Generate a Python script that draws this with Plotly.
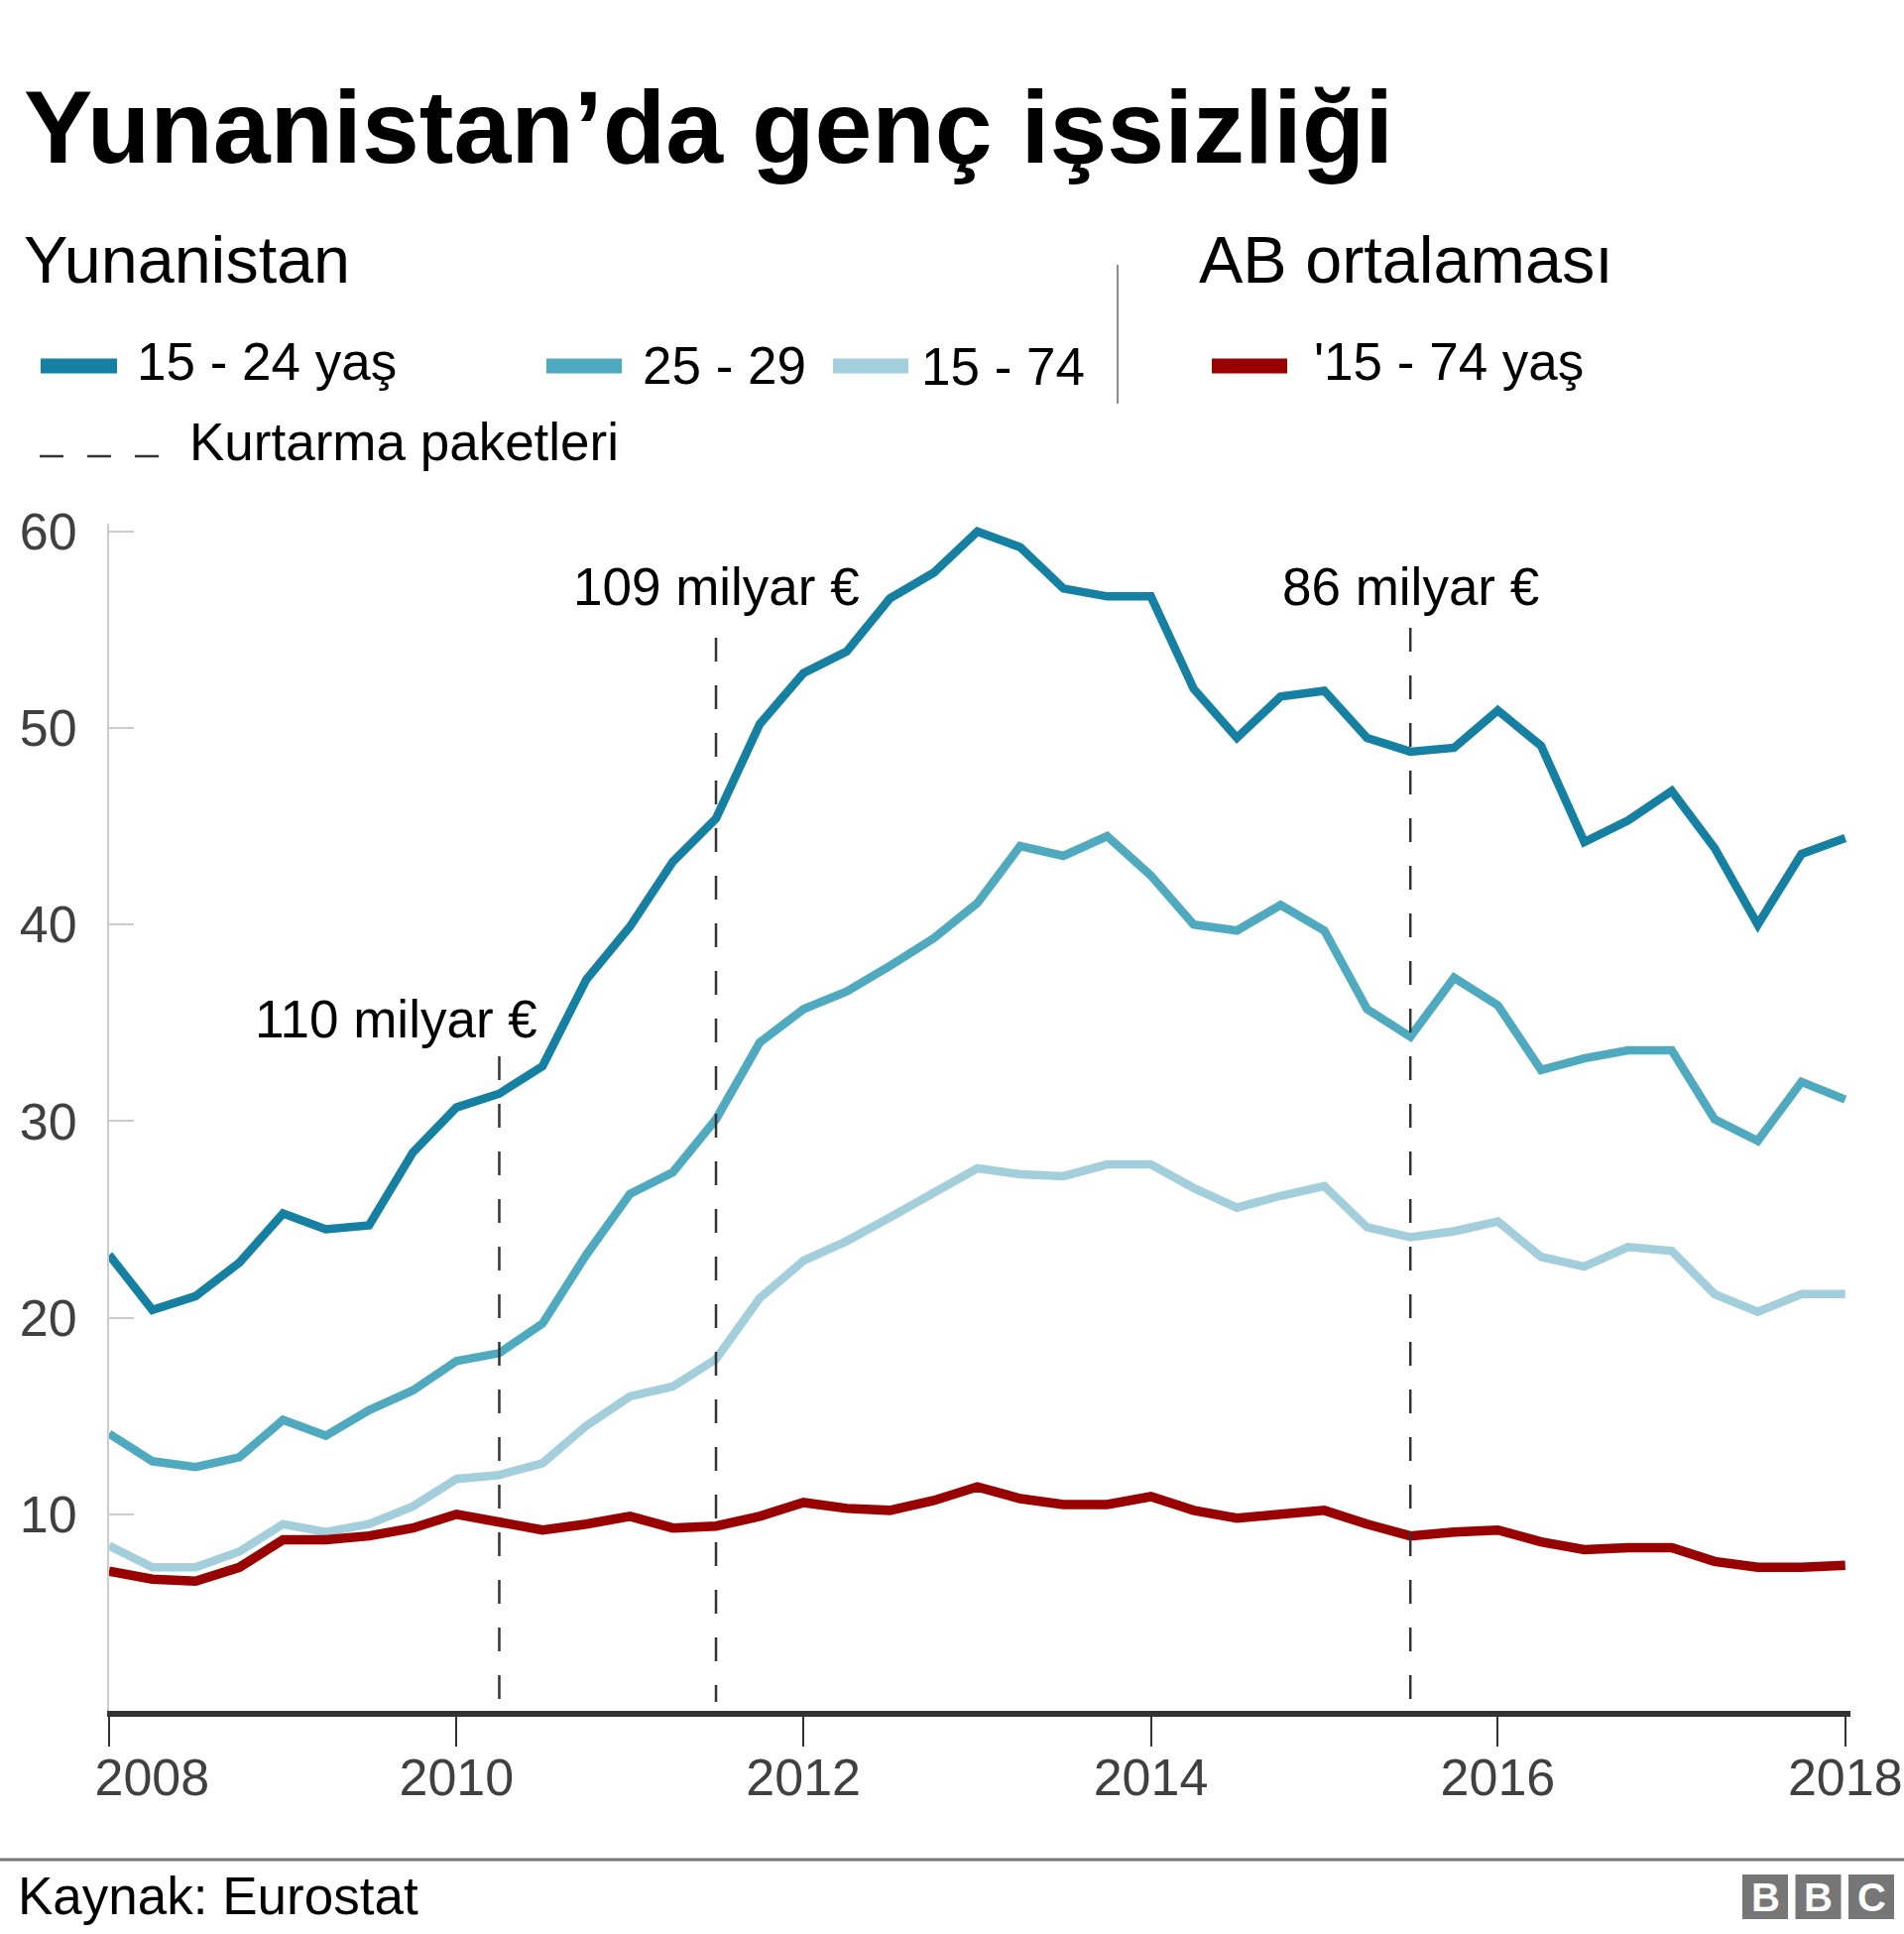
import pandas as pd
import plotly.graph_objects as go

# quarterly figures, 2008 Q1 - 2018 Q1 (%)
quarters = pd.date_range("2008-01-01", "2018-01-01", freq="QS")

gr_15_24 = [23.2, 20.4, 21.1, 22.8, 25.3, 24.5, 24.7, 28.4, 30.7, 31.4,
            32.8, 37.2, 39.9, 43.2, 45.4, 50.2, 52.8, 53.9, 56.6, 57.9,
            60.0, 59.2, 57.1, 56.7, 56.7, 52.0, 49.5, 51.6, 51.9, 49.5,
            48.8, 49.0, 50.9, 49.1, 44.2, 45.3, 46.8, 43.9, 40.0, 43.6, 44.4]

gr_25_29 = [14.1, 12.7, 12.4, 12.9, 14.8, 14.0, 15.3, 16.3, 17.8, 18.2,
            19.7, 23.2, 26.3, 27.4, 30.1, 34.0, 35.7, 36.6, 37.9, 39.3,
            41.1, 44.0, 43.5, 44.5, 42.5, 40.0, 39.7, 41.0, 39.7, 35.7,
            34.3, 37.3, 35.9, 32.6, 33.2, 33.6, 33.6, 30.1, 29.0, 32.0, 31.1]

gr_15_74 = [8.4, 7.3, 7.3, 8.1, 9.5, 9.1, 9.5, 10.4, 11.8, 12.0,
            12.6, 14.5, 16.0, 16.5, 17.9, 21.0, 22.9, 23.9, 25.1, 26.3,
            27.6, 27.3, 27.2, 27.8, 27.8, 26.6, 25.6, 26.2, 26.7, 24.6,
            24.1, 24.4, 24.9, 23.1, 22.6, 23.6, 23.4, 21.2, 20.3, 21.2, 21.2]

eu_15_74 = [7.1, 6.7, 6.6, 7.3, 8.7, 8.7, 8.9, 9.3, 10.0, 9.6,
            9.2, 9.5, 9.9, 9.3, 9.4, 9.9, 10.6, 10.3, 10.2, 10.7,
            11.4, 10.8, 10.5, 10.5, 10.9, 10.2, 9.8, 10.0, 10.2, 9.5,
            8.9, 9.1, 9.2, 8.6, 8.2, 8.3, 8.3, 7.6, 7.3, 7.3, 7.4]

year_ticks = ["2008-01-01", "2010-01-01", "2012-01-01", "2014-01-01", "2016-01-01", "2018-01-01"]
year_labels = ["\u00a0" * 6 + "2008", "2010", "2012", "2014", "2016", "2018"]

# bailout packages
bailout_dates = ["2010-04-01", "2011-07-01", "2015-07-01"]
bailout_tops = [33.3, 54.6, 55.1]
bailout_labels = ["110 milyar €", "109 milyar €", "86 milyar €"]
bailout_label_y = [35.2, 57.2, 57.2]
bailout_label_shift = [-104, 0, 0]

FONT = "Liberation Sans, Arial, Helvetica, sans-serif"
C1, C2, C3, RED = "#1580A1", "#4FAABF", "#A3CEDB", "#990000"

# page geometry (pixels)
L, R, T, B = 110, 54, 528, 225
WIDTH, HEIGHT = 1920, 1950
PW = WIDTH - L - R
PH = HEIGHT - T - B
BASE = HEIGHT - B


def px(x):
    return (x - L) / PW


def py(y):
    return (BASE - y) / PH


fig = go.Figure()

series = [(gr_15_24, C1, 8.5), (gr_25_29, C2, 8.5), (gr_15_74, C3, 8.5), (eu_15_74, RED, 9.5)]
for vals, col, w in series:
    fig.add_trace(go.Scatter(x=quarters, y=vals, mode="lines",
                             line=dict(color=col, width=w), hoverinfo="skip"))

for d, top in zip(bailout_dates, bailout_tops):
    fig.add_trace(go.Scatter(x=[d, d], y=[top, 0.45], mode="lines",
                             line=dict(color="#333333", width=2.5, dash="24px,24px"),
                             hoverinfo="skip"))

ann = []
for d, lab, yy, sh in zip(bailout_dates, bailout_labels, bailout_label_y, bailout_label_shift):
    ann.append(dict(x=d, y=yy, xref="x", yref="y", text=lab, showarrow=False,
                    xanchor="center", yanchor="middle", xshift=sh,
                    font=dict(size=53, color="#000000", family=FONT)))


def text(x, y, s, size, bold=False, color="#000000", anchor="left"):
    ann.append(dict(x=px(x), y=py(y), xref="paper", yref="paper",
                    text=f"<b>{s}</b>" if bold else s, showarrow=False,
                    xanchor=anchor, yanchor="middle",
                    font=dict(size=size, color=color, family=FONT)))


text(22, 128, "Yunanistan’da genç işsizliği", 104, bold=True)
text(22, 262, "Yunanistan", 66.5)
text(1207, 262, "AB ortalaması", 66.5)
text(136, 364, "15 - 24 yaş", 53)
text(646, 368, "25 - 29", 53)
text(927, 369, "15 - 74", 53)
text(1323, 364, "'15 - 74 yaş", 53)
text(189, 446, "Kurtarma paketleri", 53)
text(16, 1911, "Kaynak: Eurostat", 53)

shapes = []


def hline(x0, x1, y, col, w, dash="solid"):
    shapes.append(dict(type="line", xref="paper", yref="paper",
                       x0=px(x0), x1=px(x1), y0=py(y), y1=py(y),
                       line=dict(color=col, width=w, dash=dash)))


hline(41, 118, 369, C1, 15)
hline(551, 627, 369, C2, 15)
hline(840, 916, 369, C3, 15)
hline(1222, 1298, 369, RED, 15)
hline(40, 160, 460, "#333333", 2.5, dash="24px,24px")
hline(0, 1920, 1875, "#777777", 3)
shapes.append(dict(type="line", xref="paper", yref="paper",
                   x0=px(1127), x1=px(1127), y0=py(267), y1=py(407),
                   line=dict(color="#666666", width=1.5)))

# BBC blocks
for i, letter in enumerate("BBC"):
    x0 = 1757 + i * 53.5
    shapes.append(dict(type="rect", xref="paper", yref="paper",
                       x0=px(x0), x1=px(x0 + 46), y0=py(1935), y1=py(1890),
                       fillcolor="#767676", line=dict(width=0)))
    ann.append(dict(x=px(x0 + 23), y=py(1913), xref="paper", yref="paper",
                    text=f"<b>{letter}</b>", showarrow=False,
                    xanchor="center", yanchor="middle",
                    font=dict(size=40, color="#ffffff", family=FONT)))

fig.update_layout(
    width=WIDTH, height=HEIGHT, autosize=False,
    margin=dict(l=L, r=R, t=T, b=B),
    plot_bgcolor="white", paper_bgcolor="white",
    showlegend=False,
    annotations=ann, shapes=shapes,
    xaxis=dict(type="date", range=["2008-01-01", "2018-01-12"],
               tickvals=year_ticks, ticktext=year_labels,
               automargin=False,
               showgrid=False, zeroline=False,
               showline=True, linecolor="#333333", linewidth=6,
               ticks="outside", ticklen=30, tickwidth=2, tickcolor="#333333",
               ticklabelstandoff=-13,
               tickfont=dict(size=52, color="#404040", family=FONT)),
    yaxis=dict(range=[0, 60.4], tickvals=[10, 20, 30, 40, 50, 60],
               automargin=False,
               showgrid=False, zeroline=False,
               showline=True, linecolor="#cccccc", linewidth=2,
               ticks="inside", ticklen=25, tickwidth=2, tickcolor="#cccccc",
               ticklabelstandoff=20,
               tickfont=dict(size=52, color="#404040", family=FONT)),
)

page_fix = ("document.body.style.margin='0px';"
            "document.body.style.overflow='hidden';")

fig.write_html("out.html",
               config={"displayModeBar": False, "responsive": False},
               post_script=page_fix)
